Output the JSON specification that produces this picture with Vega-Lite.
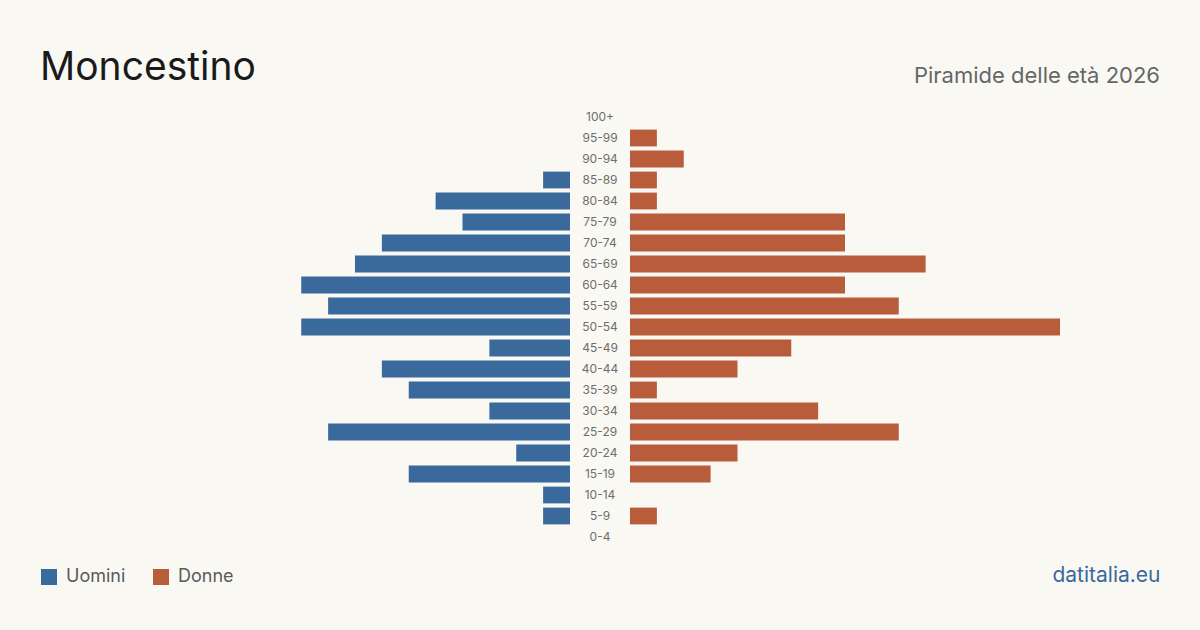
{
  "$schema": "https://vega.github.io/schema/vega-lite/v6.json",
  "background": "#f9f8f3",
  "padding": {"left": 40, "right": 40, "top": 48.5, "bottom": 45},
  "config": {
    "view": {"stroke": null},
    "concat": {"spacing": 0},
    "font": "Inter",
    "title": {"fontWeight": "normal"},
    "legend": {"padding": 0}
  },
  "data": {
    "values": [
      {"age": "100+", "men": 0, "women": 0},
      {"age": "95-99", "men": 0, "women": 1},
      {"age": "90-94", "men": 0, "women": 2},
      {"age": "85-89", "men": 1, "women": 1},
      {"age": "80-84", "men": 5, "women": 1},
      {"age": "75-79", "men": 4, "women": 8},
      {"age": "70-74", "men": 7, "women": 8},
      {"age": "65-69", "men": 8, "women": 11},
      {"age": "60-64", "men": 10, "women": 8},
      {"age": "55-59", "men": 9, "women": 10},
      {"age": "50-54", "men": 10, "women": 16},
      {"age": "45-49", "men": 3, "women": 6},
      {"age": "40-44", "men": 7, "women": 4},
      {"age": "35-39", "men": 6, "women": 1},
      {"age": "30-34", "men": 3, "women": 7},
      {"age": "25-29", "men": 9, "women": 10},
      {"age": "20-24", "men": 2, "women": 4},
      {"age": "15-19", "men": 6, "women": 3},
      {"age": "10-14", "men": 1, "women": 0},
      {"age": "5-9", "men": 1, "women": 1},
      {"age": "0-4", "men": 0, "women": 0}
    ]
  },
  "hconcat": [
    {
      "width": 530,
      "height": 441,
      "title": {"text": "Moncestino", "anchor": "start", "fontSize": 39, "color": "#1a1a1a", "offset": 19},
      "mark": {"type": "bar"},
      "encoding": {
        "y": {"field": "age", "type": "ordinal", "sort": ["100+","95-99","90-94","85-89","80-84","75-79","70-74","65-69","60-64","55-59","50-54","45-49","40-44","35-39","30-34","25-29","20-24","15-19","10-14","5-9","0-4"], "scale": {"paddingInner": 0.2, "paddingOuter": 0.1}, "axis": null},
        "x": {"field": "men", "type": "quantitative", "scale": {"domain": [0, 19.72], "reverse": true}, "axis": null},
        "color": {"datum": "Uomini", "type": "nominal", "scale": {"domain": ["Uomini", "Donne"], "range": ["#3a6a9c", "#b95c3c"]},
          "legend": {"title": null, "orient": "none", "legendX": 0, "legendY": 461.5, "direction": "horizontal", "symbolType": "square", "symbolSize": 256, "symbolStrokeWidth": 0, "labelFontSize": 18, "labelColor": "#5a5a5a", "labelOffset": 8, "columnPadding": 26}}
      }
    },
    {
      "width": 60,
      "height": 441,
      "mark": {"type": "text", "fontSize": 12, "color": "#6e6e6e"},
      "encoding": {
        "y": {"field": "age", "type": "ordinal", "sort": ["100+","95-99","90-94","85-89","80-84","75-79","70-74","65-69","60-64","55-59","50-54","45-49","40-44","35-39","30-34","25-29","20-24","15-19","10-14","5-9","0-4"], "scale": {"paddingInner": 0.2, "paddingOuter": 0.1}, "axis": null},
        "text": {"field": "age", "type": "nominal"}
      }
    },
    {
      "width": 530,
      "height": 441,
      "title": {"text": "Piramide delle età 2026", "anchor": "end", "fontSize": 22, "color": "#666666", "offset": 19},
      "mark": {"type": "bar"},
      "encoding": {
        "y": {"field": "age", "type": "ordinal", "sort": ["100+","95-99","90-94","85-89","80-84","75-79","70-74","65-69","60-64","55-59","50-54","45-49","40-44","35-39","30-34","25-29","20-24","15-19","10-14","5-9","0-4"], "scale": {"paddingInner": 0.2, "paddingOuter": 0.1}, "axis": null},
        "x": {"field": "women", "type": "quantitative", "scale": {"domain": [0, 19.72]},
          "axis": {"title": "datitalia.eu", "labels": false, "ticks": false, "domain": false, "grid": false, "titleAnchor": "end", "titleColor": "#3a6a9c", "titleFontSize": 21, "titleFontWeight": "normal", "titlePadding": 17}},
        "color": {"datum": "Donne", "type": "nominal"}
      }
    }
  ]
}
